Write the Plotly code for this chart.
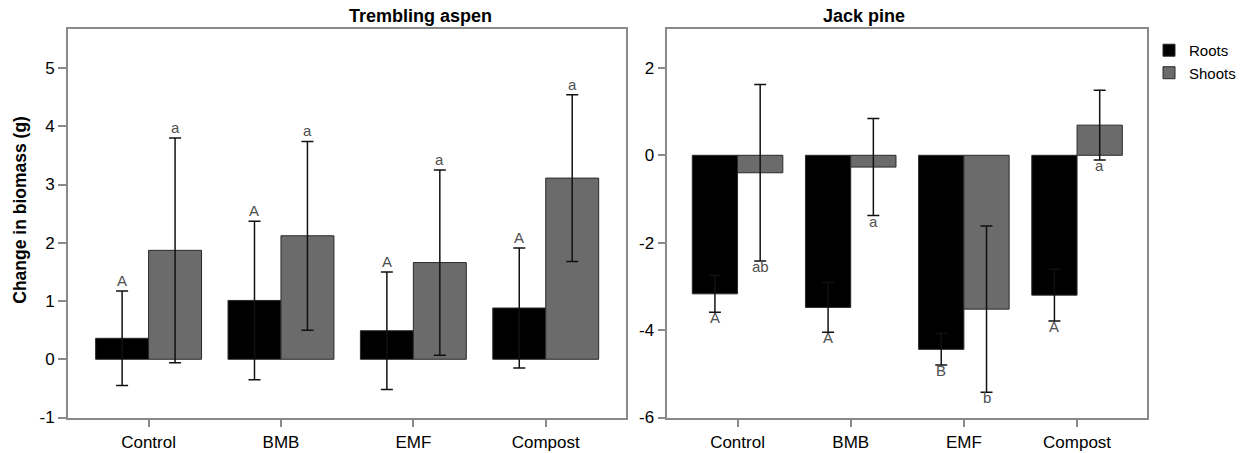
import plotly.graph_objects as go

# ---- data ----
categories = ["Control", "BMB", "EMF", "Compost"]

aspen_roots = [0.36, 1.01, 0.49, 0.88]
aspen_roots_err = [0.81, 1.36, 1.01, 1.03]
aspen_shoots = [1.87, 2.12, 1.66, 3.11]
aspen_shoots_err = [1.93, 1.62, 1.59, 1.43]

pine_roots = [-3.17, -3.48, -4.44, -3.20]
pine_roots_err = [0.42, 0.57, 0.36, 0.59]
pine_shoots = [-0.40, -0.27, -3.52, 0.69]
pine_shoots_err = [2.02, 1.11, 1.90, 0.80]

aspen_roots_letters = ["A", "A", "A", "A"]
aspen_shoots_letters = ["a", "a", "a", "a"]
pine_roots_letters = ["A", "A", "B", "A"]
pine_shoots_letters = ["ab", "a", "b", "a"]

aspen_yticks = [-1, 0, 1, 2, 3, 4, 5]
aspen_ytick_labels = ["-1", "0", "1", "2", "3", "4", "5"]
pine_yticks = [-6, -4, -2, 0, 2]
pine_ytick_labels = ["-6", "-4", "-2", "0", "2"]

# ---- style ----
W, H = 1241, 453
H_EFF = 443.5  # effective rendered height of the paper area
FONT = "Liberation Sans, Arial, sans-serif"
ROOT_COL = "#000000"
SHOOT_COL = "#6b6b6b"
FRAME_COL = "#8a8a8a"
ERR_COL = "#111111"
LETTER_COL = "#505050"
BAR_W = 0.4  # each bar occupies 0.4 of a category (bargap 0.2)


def px_x(p):
    return p / W


def px_y(p):
    return 1 - p / H_EFF


fig = go.Figure()

def add_pair(roots, rerr, shoots, serr, xa, ya, show):
    fig.add_trace(go.Bar(
        x=categories, y=roots, name="Roots", marker_color=ROOT_COL,
        marker_line=dict(color="#2a2a2a", width=1),
        error_y=dict(type="data", array=rerr, visible=True, color=ERR_COL,
                     thickness=1.5, width=6),
        xaxis=xa, yaxis=ya, showlegend=show, legendgroup="r", offsetgroup="r"))
    fig.add_trace(go.Bar(
        x=categories, y=shoots, name="Shoots", marker_color=SHOOT_COL,
        marker_line=dict(color="#2a2a2a", width=1),
        error_y=dict(type="data", array=serr, visible=True, color=ERR_COL,
                     thickness=1.5, width=6),
        xaxis=xa, yaxis=ya, showlegend=show, legendgroup="s", offsetgroup="s"))

add_pair(aspen_roots, aspen_roots_err, aspen_shoots, aspen_shoots_err, "x", "y", True)
add_pair(pine_roots, pine_roots_err, pine_shoots, pine_shoots_err, "x2", "y2", False)

annotations = []

def letters(vals, errs, labs, offset, xref, yref, above):
    for i, (v, e, t) in enumerate(zip(vals, errs, labs)):
        if above:
            annotations.append(dict(x=i + offset, y=v + e, xref=xref, yref=yref,
                                    text=t, showarrow=False, yanchor="bottom",
                                    yshift=0, font=dict(size=15, color=LETTER_COL, family=FONT)))
        else:
            annotations.append(dict(x=i + offset, y=v - e, xref=xref, yref=yref,
                                    text=t, showarrow=False, yanchor="top",
                                    yshift=5, font=dict(size=15, color=LETTER_COL, family=FONT)))

letters(aspen_roots, aspen_roots_err, aspen_roots_letters, -BAR_W / 2, "x", "y", True)
letters(aspen_shoots, aspen_shoots_err, aspen_shoots_letters, BAR_W / 2, "x", "y", True)
letters(pine_roots, pine_roots_err, pine_roots_letters, -BAR_W / 2, "x2", "y2", False)
letters(pine_shoots, pine_shoots_err, pine_shoots_letters, BAR_W / 2, "x2", "y2", False)

# panel titles
x1d = [px_x(68), px_x(628)]
x2d = [px_x(669), px_x(1150)]
ydom = [px_y(418), px_y(29)]
annotations.append(dict(x=(x1d[0] + x1d[1]) / 2, y=px_y(16), xref="paper", yref="paper",
                        yanchor="middle", text="<b>Trembling aspen</b>", showarrow=False,
                        font=dict(size=18, color="black", family=FONT)))
annotations.append(dict(x=(x2d[0] + x2d[1]) / 2, y=px_y(16), xref="paper", yref="paper",
                        yanchor="middle", text="<b>Jack pine</b>", showarrow=False,
                        font=dict(size=18, color="black", family=FONT)))
annotations.append(dict(x=px_x(20), y=px_y(210), xref="paper", yref="paper",
                        xanchor="center", yanchor="middle",
                        text="<b>Change in biomass (g)</b>", showarrow=False, textangle=-90,
                        font=dict(size=17.5, color="black", family=FONT)))

axis_common = dict(showline=True, linecolor=FRAME_COL, linewidth=1.5, mirror=True,
                   ticks="outside", ticklen=8, tickcolor=FRAME_COL, tickwidth=1.5,
                   showgrid=False, zeroline=False,
                   tickfont=dict(size=17, color="black", family=FONT))

fig.update_layout(
    width=W, height=H, autosize=False,
    margin=dict(l=0, r=0, t=0, b=0),
    paper_bgcolor="white", plot_bgcolor="white",
    barmode="group", bargap=0.2, bargroupgap=0,
    font=dict(family=FONT, color="black"),
    xaxis=dict(domain=x1d, anchor="y", type="category", range=[-0.61, 3.61], **axis_common),
    yaxis=dict(domain=ydom, anchor="x", range=[-1, 5.67], tickvals=aspen_yticks,
               ticktext=aspen_ytick_labels, **axis_common),
    xaxis2=dict(domain=x2d, anchor="y2", type="category", range=[-0.62, 3.62], **axis_common),
    yaxis2=dict(domain=ydom, anchor="x2", range=[-6, 2.89], tickvals=pine_yticks,
                ticktext=pine_ytick_labels, **axis_common),
    legend=dict(x=px_x(1152), y=px_y(34), xanchor="left", yanchor="top",
                font=dict(size=15, color="black", family=FONT),
                bgcolor="rgba(0,0,0,0)", itemwidth=30, tracegroupgap=0,
                itemclick=False),
    annotations=annotations,
)

fig.write_html("out.html", config={"displayModeBar": False},
               post_script="document.body.style.margin='0';")
